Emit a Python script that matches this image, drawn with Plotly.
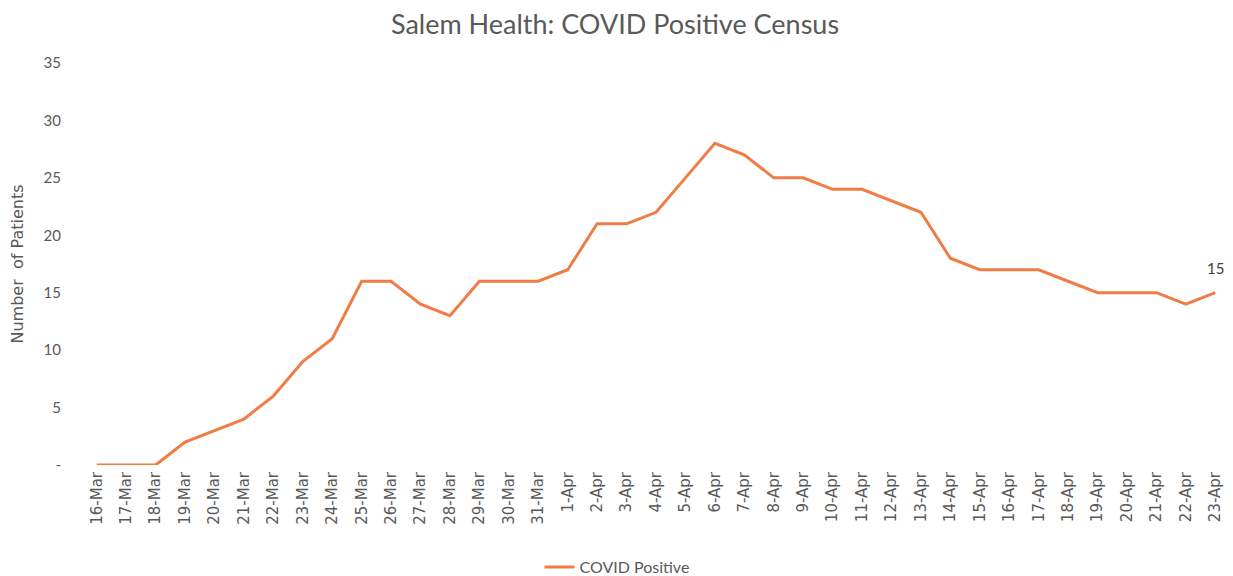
import plotly.graph_objects as go

dates = [f"{d}-Mar" for d in range(16, 32)] + [f"{d}-Apr" for d in range(1, 24)]
covid_positive = [0, 0, 0, 2, 3, 4, 6, 9, 11, 16, 16, 14, 13, 16, 16, 16,
                  17, 21, 21, 22, 25, 28, 27, 25, 25, 24, 24, 23, 22, 18, 17, 17,
                  17, 16, 15, 15, 15, 14, 15]
y_ticks = [0, 5, 10, 15, 20, 25, 30, 35]
y_ticktext = ["-", "5", "10", "15", "20", "25", "30", "35"]

FONT = "Lato, 'Open Sans', sans-serif"
WIDE = "'DejaVu Sans', sans-serif"
GRAY = "#595959"
ORANGE = "#EF7D45"

W, H = 1225, 568

fig = go.Figure()
fig.add_trace(go.Scatter(
    x=dates, y=covid_positive, mode="lines", name="COVID Positive",
    line=dict(color=ORANGE, width=3),
))
fig.add_annotation(
    x=dates[-1], y=covid_positive[-1], text=str(covid_positive[-1]),
    showarrow=False, yshift=25, font=dict(family=FONT, size=15, color="#404040"),
)

fig.update_layout(
    width=W, height=H,
    paper_bgcolor="white", plot_bgcolor="white",
    margin=dict(l=74, r=3, t=55, b=111, autoexpand=False),
    title=dict(text="Salem Health: COVID Positive Census", x=607 / W, xref="container",
               xanchor="center", y=1 - 17 / H, yanchor="middle",
               font=dict(family=FONT, size=27, color=GRAY)),
    font=dict(family=FONT, color=GRAY),
    showlegend=True,
    legend=dict(orientation="h", x=0.466, xanchor="center", y=-0.254, yanchor="middle",
                font=dict(family=FONT, size=16, color=GRAY)),
    xaxis=dict(type="category", range=[-0.5, len(dates) - 0.5], showgrid=False,
               showline=False, zeroline=False, ticks="", tickangle=-90,
               ticklabelstandoff=3,
               tickfont=dict(family=WIDE, size=15, color=GRAY)),
    yaxis=dict(range=[0, 35], tickvals=y_ticks, ticktext=y_ticktext, showgrid=False,
               showline=False, zeroline=False, ticks="", ticklabelstandoff=20,
               tickfont=dict(family=FONT, size=15, color=GRAY),
               title=dict(text="Number  of Patients", standoff=16,
                          font=dict(family=WIDE, size=16, color=GRAY))),
)

fig.write_html("out.html")
